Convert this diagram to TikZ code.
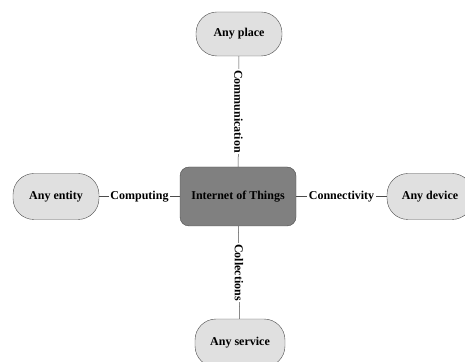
\documentclass[tikz,border=0pt]{standalone}
\usepackage{fontspec}
\setmainfont{Liberation Serif}
\begin{document}
\begin{tikzpicture}[x=1pt,y=1pt,
      font=\bfseries\fontsize{12}{14}\selectfont,
      hub/.style={draw=black!70,fill=black!50,rounded corners=9pt,
        minimum width=116pt,minimum height=59pt,inner sep=0pt},
      any/.style={draw=black!70,fill=black!12,rounded corners=21pt,
        minimum width=86pt,minimum height=46pt,inner sep=0pt},
      link/.style={draw=black!70,line width=0.5pt},
      tag/.style={fill=white,inner sep=1.5pt}]
      \useasboundingbox (0,0) rectangle (465,361);
      % centre
      \node[hub] (iot) at (238,164.5) {Internet of Things};
      % the four "any"
      \node[any,minimum height=44pt] (place) at (239,327) {Any place};
      \node[any] (entity) at (56,164.5) {Any entity};
      \node[any] (device) at (430,164.5) {Any device};
      \node[any,minimum width=90pt,minimum height=48pt] (service) at (240,18) {Any service};
      % links
      \draw[link] (place) -- node[tag,rotate=-90] {Communication} (iot);
      \draw[link] (entity) -- node[tag] {Computing} (iot);
      \draw[link] (iot) -- node[tag] {Connectivity} (device);
      \draw[link] (iot) -- node[tag,rotate=-90] {Collections} (service);
\end{tikzpicture}
\end{document}
